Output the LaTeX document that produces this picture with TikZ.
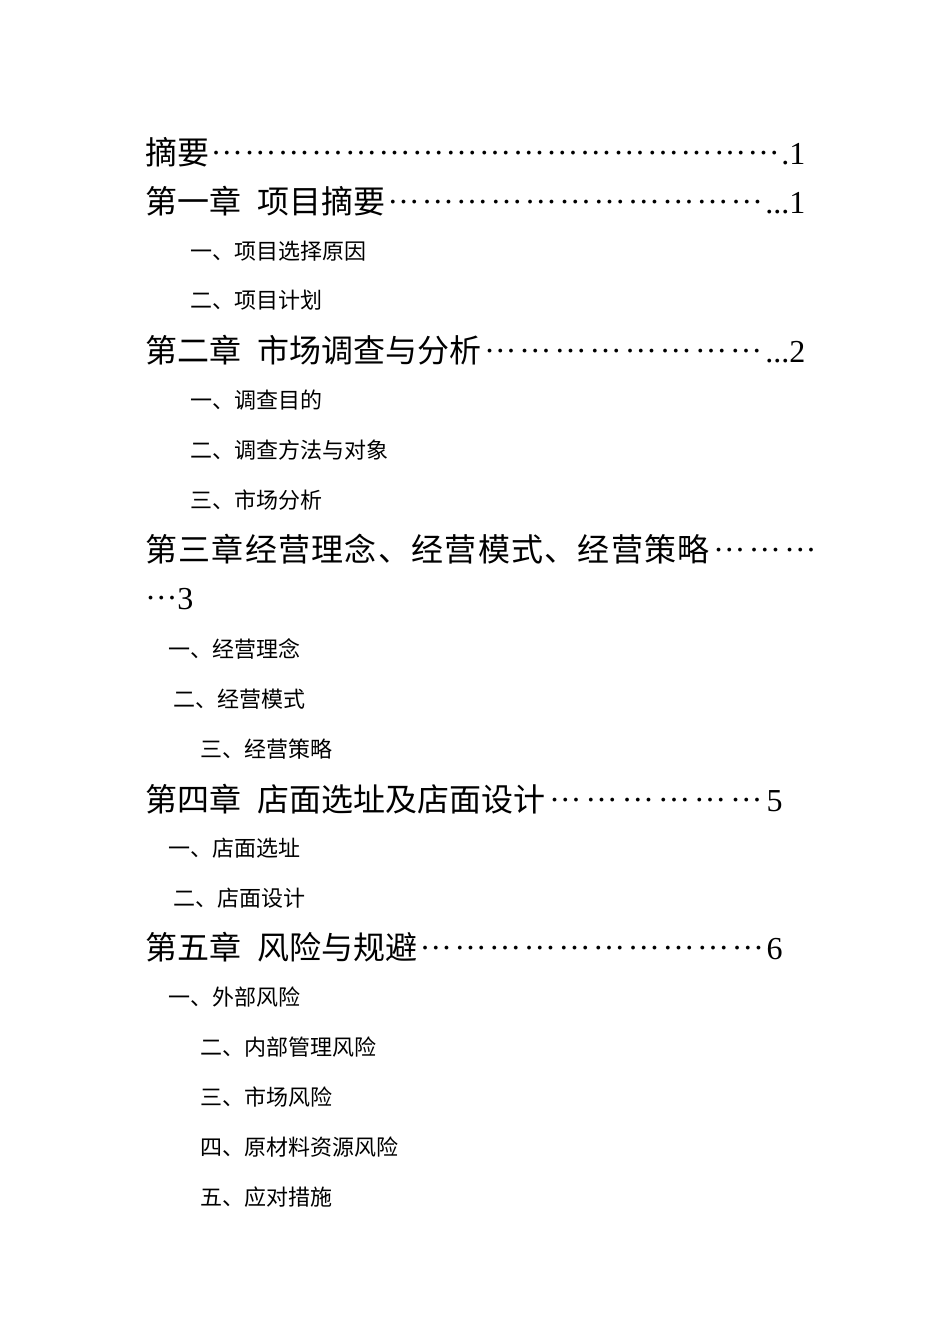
\documentclass[tikz,border=0pt]{standalone}
\usepackage{fontspec}
\setmainfont{Liberation Serif}
\newfontfamily\cjk{Noto Sans CJK SC}
\newcommand{\md}{\raisebox{0.3em}{\rmfamily …}}
\newcommand{\dts}{\xleaders\hbox{\md}\hfill}
\begin{document}
\begin{tikzpicture}[x=0.75pt,y=-0.75pt,
  big/.style={anchor=west,inner sep=0pt,font=\fontsize{24}{24}\selectfont\cjk},
  small/.style={anchor=west,inner sep=0pt,font=\fontsize{16.5}{16.5}\selectfont\cjk}]
\useasboundingbox[fill=white] (0,0) rectangle (950,1344);
\node[big] (t0) at (145,152) {\parbox{495pt}{摘要\dts{\rmfamily.1}}};
\node[big] (t1) at (145,201) {\parbox{495pt}{第一章\hspace{0.5em}项目摘要\dts{\rmfamily...1}}};
\node[small] (s11) at (190,251) {一、项目选择原因};
\node[small] (s12) at (190,300) {二、项目计划};
\node[big] (t2) at (145,350) {\parbox{495pt}{第二章\hspace{0.5em}市场调查与分析\dts{\rmfamily...2}}};
\node[small] (s21) at (190,400) {一、调查目的};
\node[small] (s22) at (190,450) {二、调查方法与对象};
\node[small] (s23) at (190,500) {三、市场分析};
\node[big] (t3) at (145,549) {\parbox{506pt}{\addfontfeatures{LetterSpace=4}第三章经营理念、经营模式、经营策略\dts\null}};
\node[big] (t3b) at (145,599) {\md{\rmfamily 3}};
\node[small] (s31) at (168,649) {一、经营理念};
\node[small] (s32) at (173,699) {二、经营模式};
\node[small] (s33) at (200,749) {三、经营策略};
\node[big] (t4) at (145,799) {\parbox{478pt}{第四章\hspace{0.5em}店面选址及店面设计\dts{\rmfamily 5}}};
\node[small] (s41) at (168,848) {一、店面选址};
\node[small] (s42) at (173,898) {二、店面设计};
\node[big] (t5) at (145,947) {\parbox{478pt}{第五章\hspace{0.5em}风险与规避\dts{\rmfamily 6}}};
\node[small] (s51) at (168,997) {一、外部风险};
\node[small] (s52) at (200,1047) {二、内部管理风险};
\node[small] (s53) at (200,1097) {三、市场风险};
\node[small] (s54) at (200,1147) {四、原材料资源风险};
\node[small] (s55) at (200,1197) {五、应对措施};
\end{tikzpicture}
\end{document}
